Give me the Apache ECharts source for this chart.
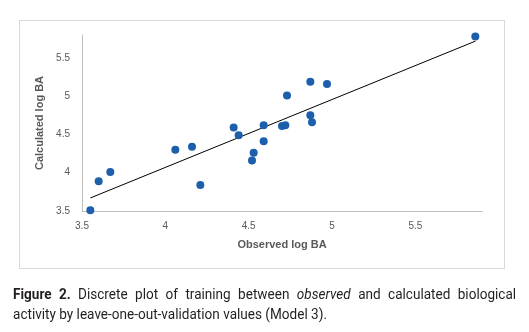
<!DOCTYPE html>
<html>
<head>
<meta charset="utf-8">
<script src="https://cdn.jsdelivr.net/npm/echarts@6/dist/echarts.min.js"></script>
<style>
  html, body { margin: 0; padding: 0; background: #fff; width: 529px; height: 332px; overflow: hidden; }
  #frame { position: absolute; left: 19px; top: 20px; width: 484px; height: 247px; border: 1px solid #d9d9d9; }
  #chart { position: absolute; left: 0; top: 0; width: 529px; height: 332px; }
  #caption {
    position: absolute; left: 13px; top: 284px; width: 575px;
    transform: scaleX(0.875); transform-origin: 0 0;
    font-family: "Roboto", sans-serif; font-size: 15.5px; line-height: 20px;
    color: #231f20; text-align: justify; margin: 0;
  }
</style>
</head>
<body>
<div id="frame"></div>
<div id="chart"></div>
<p id="caption"><b>Figure 2.</b> Discrete plot of training between <i>observed</i> and calculated biological activity by leave-one-out-validation values (Model 3).</p>
<script>
// Observed vs. calculated log BA (leave-one-out validation, Model 3)
const observed = [3.55, 3.60, 3.67, 4.06, 4.16, 4.21, 4.41, 4.44, 4.52, 4.53,
                  4.59, 4.59, 4.70, 4.72, 4.73, 4.87, 4.87, 4.88, 4.97, 5.86];
const calculated = [3.51, 3.89, 4.01, 4.30, 4.34, 3.84, 4.59, 4.49, 4.16, 4.26,
                    4.41, 4.62, 4.61, 4.62, 5.01, 5.19, 4.75, 4.66, 5.16, 5.78];
const xTitle = 'Observed log BA';
const yTitle = 'Calculated log BA';

const points = observed.map((x, i) => [x, calculated[i]]);

// Least-squares linear trend line across the observed range
const n = observed.length;
const mx = observed.reduce((a, b) => a + b, 0) / n;
const my = calculated.reduce((a, b) => a + b, 0) / n;
let sxy = 0, sxx = 0;
for (let i = 0; i < n; i++) {
  sxy += (observed[i] - mx) * (calculated[i] - my);
  sxx += (observed[i] - mx) * (observed[i] - mx);
}
const slope = sxy / sxx;
const intercept = my - slope * mx;
const xMin = Math.min(...observed), xMax = Math.max(...observed);
const trend = [[xMin, intercept + slope * xMin], [xMax, intercept + slope * xMax]];

const chart = echarts.init(document.getElementById('chart'), null, { renderer: 'canvas' });
const labelStyle = { color: '#595959', fontSize: 10, fontFamily: 'Liberation Sans, Arial, sans-serif' };
const nameStyle = { color: '#595959', fontSize: 11, fontWeight: 'bold', fontFamily: 'Liberation Sans, Arial, sans-serif' };

chart.setOption({
  animation: false,
  backgroundColor: 'transparent',
  grid: { left: 82, top: 35, right: 47, bottom: 121 },
  xAxis: {
    type: 'value', min: 3.5, max: 5.9, interval: 0.5,
    name: xTitle, nameLocation: 'middle', nameGap: 28, nameTextStyle: nameStyle,
    axisLine: { show: true, lineStyle: { color: '#bfbfbf', width: 1 } },
    axisTick: { show: false },
    splitLine: { show: false },
    axisLabel: Object.assign({ margin: 10, showMaxLabel: false }, labelStyle)
  },
  yAxis: {
    type: 'value', min: 3.5, max: 5.8, interval: 0.5,
    name: yTitle, nameLocation: 'middle', nameGap: 23, nameTextStyle: nameStyle,
    axisLine: { show: true, lineStyle: { color: '#bfbfbf', width: 1 } },
    axisTick: { show: false },
    splitLine: { show: false },
    axisLabel: Object.assign({ margin: 12, showMaxLabel: false }, labelStyle)
  },
  series: [
    {
      type: 'line', data: trend, symbol: 'none', silent: true, z: 1,
      lineStyle: { color: '#000', width: 1 }
    },
    {
      type: 'scatter', data: points, symbol: 'circle', symbolSize: 8, z: 2,
      itemStyle: { color: '#1d5fab', opacity: 1 }
    }
  ]
});
</script>
</body>
</html>
